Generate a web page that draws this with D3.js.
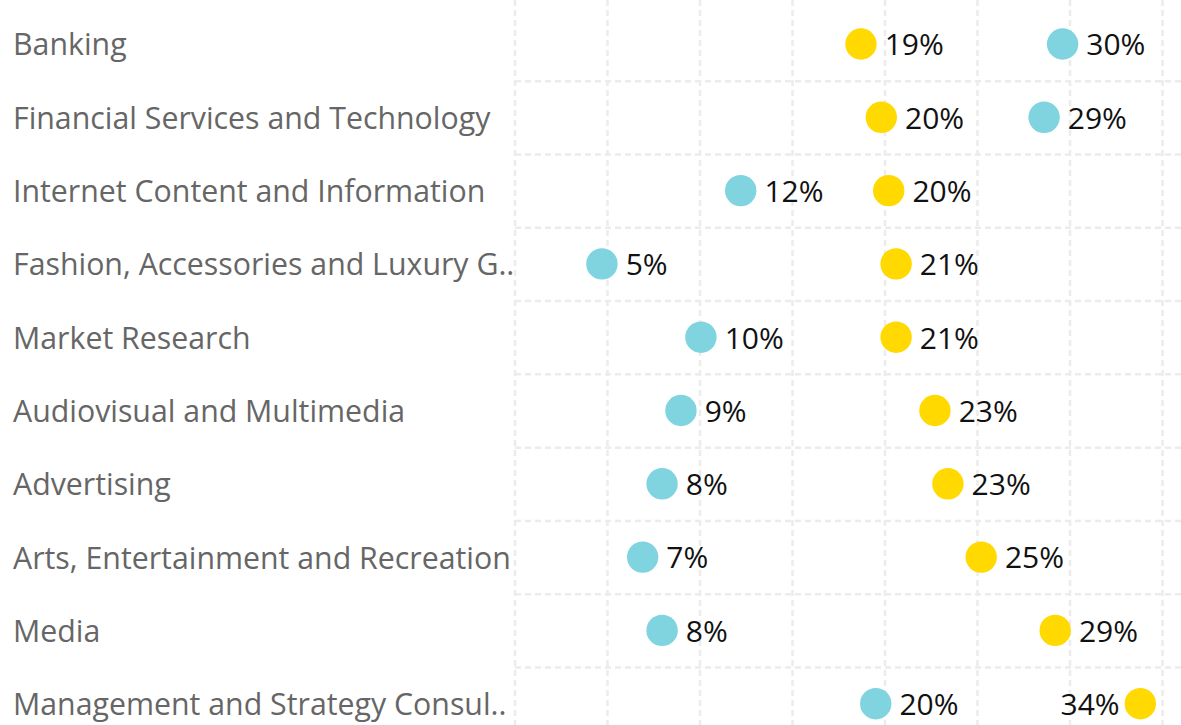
<!DOCTYPE html>
<html>
<head>
<meta charset="utf-8">
<script src="https://cdn.jsdelivr.net/npm/d3@7"></script>
<style>
  html, body { margin: 0; padding: 0; background: #fff; overflow: hidden; }
  svg { display: block; font-family: "Open Sans", sans-serif; }
</style>
</head>
<body>
<svg id="chart" width="1181" height="725"></svg>
<script>
// Industry categories, top to bottom
const categories = [
  "Banking",
  "Financial Services and Technology",
  "Internet Content and Information",
  "Fashion, Accessories and Luxury Goods",
  "Market Research",
  "Audiovisual and Multimedia",
  "Advertising",
  "Arts, Entertainment and Recreation",
  "Media",
  "Management and Strategy Consulting"
];

// Share (%) per category, first series (blue dots)
const seriesBlue = [29.6, 28.6, 12.2, 4.7, 10.05, 8.97, 7.95, 6.9, 7.95, 19.5];

// Share (%) per category, second series (yellow dots)
const seriesYellow = [18.7, 19.8, 20.2, 20.6, 20.6, 22.7, 23.4, 25.2, 29.2, 33.8];

// Gridline positions along the percentage axis
const gridTicks = [0, 5, 10, 15, 20, 25, 30, 35];

const W = 1181, H = 725;
const svg = d3.select("#chart");

const labelX = 13;
const labelMaxWidth = 502;
const rowStep = 73.3;
const firstRow = 44.5;

const x = d3.scaleLinear().domain([0, 35]).range([515, 1162.5]);
const y = d3.scaleBand()
  .domain(categories)
  .range([firstRow - rowStep / 2, firstRow - rowStep / 2 + rowStep * categories.length])
  .paddingInner(0).paddingOuter(0);

const gridColor = "#ececec";
const dash = "6,4";

// vertical gridlines
svg.append("g")
  .selectAll("line")
  .data(gridTicks)
  .join("line")
  .attr("x1", d => x(d)).attr("x2", d => x(d))
  .attr("y1", 0).attr("y2", H)
  .attr("stroke", gridColor)
  .attr("stroke-width", 2.5)
  .attr("stroke-dasharray", dash);

// horizontal gridlines between rows
svg.append("g")
  .selectAll("line")
  .data(categories.slice(1))
  .join("line")
  .attr("x1", x(0)).attr("x2", W)
  .attr("y1", d => y(d)).attr("y2", d => y(d))
  .attr("stroke", gridColor)
  .attr("stroke-width", 2.5)
  .attr("stroke-dasharray", dash);

// category labels, shortened with ".." when too wide
const labels = svg.append("g")
  .selectAll("text")
  .data(categories)
  .join("text")
  .attr("x", labelX)
  .attr("y", d => y(d) + y.bandwidth() / 2)
  .attr("dy", "0.36em")
  .attr("fill", "#666")
  .attr("font-size", 30.3)
  .text(d => d);

labels.each(function(d) {
  const t = d3.select(this);
  if (this.getComputedTextLength() <= labelMaxWidth) return;
  let s = d;
  while (s.length > 1) {
    s = s.slice(0, -1);
    t.text(s.trimEnd() + "..");
    if (this.getComputedTextLength() <= labelMaxWidth) break;
  }
});

const fmt = v => Math.round(v) + "%";
const r = 15.7;

const points = [];
categories.forEach((c, i) => {
  points.push({ cat: c, value: seriesBlue[i], color: "#80d4e0" });
  points.push({ cat: c, value: seriesYellow[i], color: "#ffd900" });
});

const pg = svg.append("g");

pg.selectAll("circle")
  .data(points)
  .join("circle")
  .attr("cx", d => x(d.value))
  .attr("cy", d => y(d.cat) + y.bandwidth() / 2 - 0.5)
  .attr("r", r)
  .attr("fill", d => d.color);

// value labels: right of the dot, or left if it would run off the edge
pg.selectAll("text")
  .data(points)
  .join("text")
  .attr("y", d => y(d.cat) + y.bandwidth() / 2)
  .attr("dy", "0.36em")
  .attr("font-size", 30)
  .attr("fill", "#111")
  .text(d => fmt(d.value))
  .each(function(d) {
    const t = d3.select(this);
    const w = this.getComputedTextLength();
    const cx = x(d.value);
    if (cx + r + 8 + w > W - 4) {
      t.attr("x", cx - r - 5).attr("text-anchor", "end");
    } else {
      t.attr("x", cx + r + 8).attr("text-anchor", "start");
    }
  });
</script>
</body>
</html>
